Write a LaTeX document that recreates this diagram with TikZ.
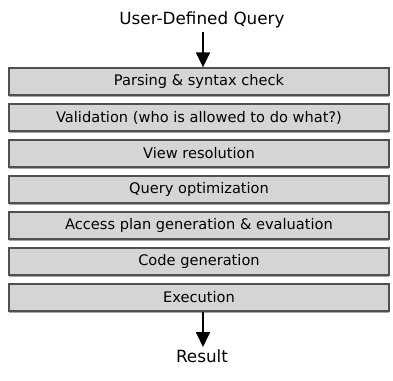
\documentclass[tikz,border=0pt]{standalone}
\usepackage{fontspec}
\setmainfont{DejaVu Sans}
\usetikzlibrary{arrows.meta,shadows}
\definecolor{boxfill}{HTML}{D5D5D5}
\definecolor{boxline}{HTML}{505050}
\tikzset{
  stage/.style={draw=boxline, line width=1.3pt, fill=boxfill,
    minimum width=380pt, minimum height=27pt, inner sep=0pt,
    font=\fontsize{14.6}{16}\selectfont,
    drop shadow={shadow xshift=0pt, shadow yshift=-1.6pt, fill=black!35, opacity=1}},
  label/.style={font=\fontsize{16.8}{19}\selectfont, inner sep=0pt},
  flow/.style={line width=1.8pt, -{Triangle[width=14pt,length=15pt]}}
}
\begin{document}
\begin{tikzpicture}[x=1pt,y=1pt]
  \useasboundingbox (0,0) rectangle (393,380);
  \node[label] (query) at (202,360) {User-Defined Query};
  \node[stage] (s1) at (199,298.5) {Parsing \& syntax check};
  \node[stage] (s2) at (199,262.5) {Validation (who is allowed to do what?)};
  \node[stage] (s3) at (199,226.5) {View resolution};
  \node[stage] (s4) at (199,190.5) {Query optimization};
  \node[stage] (s5) at (199,154.5) {Access plan generation \& evaluation};
  \node[stage] (s6) at (199,118.5) {Code generation};
  \node[stage] (s7) at (199,82.5) {Execution};
  \node[label] (result) at (202,24) {Result};
  \coordinate (inTop) at (203,348);
  \coordinate (outTip) at (203,33);
  \draw[flow] (inTop) -- (inTop |- s1.north);
  \draw[flow] (outTip |- s7.south) -- (outTip);
\end{tikzpicture}
\end{document}
